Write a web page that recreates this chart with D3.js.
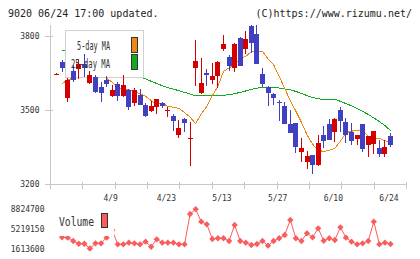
<!DOCTYPE html>
<html lang="ja">
<head>
<meta charset="utf-8">
<script src="https://cdnjs.cloudflare.com/ajax/libs/d3/7.8.5/d3.min.js"></script>
<style>
  body { margin: 0; background: #fff; }
  svg { display: block; font-family: "DejaVu Sans Mono", monospace; }
</style>
</head>
<body>
<svg width="420" height="259"></svg>
<script>
// trading days shown (one candle each)
const dates = ["3/26","3/27","3/30","3/31","4/1","4/2","4/3","4/6","4/7","4/8",
  "4/9","4/10","4/13","4/14","4/15","4/16","4/17","4/20","4/21","4/22",
  "4/23","4/24","4/27","4/28","4/30","5/1","5/7","5/8","5/11","5/12",
  "5/13","5/14","5/15","5/18","5/19","5/20","5/21","5/22","5/25","5/26",
  "5/27","5/28","5/29","6/1","6/2","6/3","6/4","6/5","6/8","6/9",
  "6/10","6/11","6/12","6/15","6/16","6/17","6/18","6/19","6/22","6/23","6/24"];

const open  = [3644,3695,3547,3657,3664,3685,3608,3634,3594,3621,
  3558,3604,3558,3581,3527,3561,3520,3496,3513,3527,
  3499,3476,3399,3462,3382,3668,3570,3651,3621,3637,
  3746,3715,3671,3789,3745,3840,3807,3645,3594,3563,
  3534,3516,3442,3446,3332,3291,3318,3278,3399,3443,
  3412,3500,3450,3410,3383,3443,3359,3363,3348,3321,3395];
const high  = [3648,3702,3628,3682,3702,3726,3657,3641,3614,3638,
  3601,3614,3641,3585,3589,3585,3528,3536,3544,3532,
  3513,3483,3460,3466,3453,3783,3711,3666,3691,3699,
  3803,3722,3772,3795,3819,3843,3843,3668,3598,3570,
  3540,3533,3500,3446,3386,3334,3318,3399,3435,3462,
  3466,3513,3469,3446,3399,3443,3395,3415,3379,3379,3408];
const low   = [3642,3655,3531,3614,3624,3634,3604,3570,3533,3594,
  3554,3538,3554,3500,3517,3520,3473,3491,3483,3507,
  3473,3416,3388,3412,3275,3598,3565,3598,3605,3588,
  3740,3659,3655,3679,3726,3729,3686,3594,3516,3520,
  3457,3442,3408,3325,3291,3261,3242,3272,3345,3379,
  3372,3412,3365,3359,3359,3332,3311,3321,3311,3311,3352];
const close = [3646,3668,3621,3621,3685,3671,3641,3574,3570,3605,
  3581,3558,3601,3513,3581,3520,3477,3516,3544,3517,
  3502,3457,3429,3449,3388,3698,3610,3643,3637,3695,
  3765,3679,3767,3679,3787,3772,3686,3604,3567,3550,
  3527,3442,3408,3352,3348,3314,3278,3368,3375,3379,
  3462,3457,3399,3376,3399,3341,3395,3415,3322,3352,3359];

const ma5 = [null,3607,3620,3630,3640,3648,3653,3648,3638,3628,
  3612,3594,3580,3584,3572,3566,3555,3538,3522,3527,
  3515,3511,3506,3490,3471,3445,3484,3515,3558,3596,
  3656,3670,3684,3708,3717,3735,3737,3737,3706,3683,
  3636,3587,3538,3495,3450,3400,3362,3338,3332,3337,
  3345,3374,3408,3415,3416,3416,3394,3384,3385,3376,3368];
const ma25 = [null,3742,3735,3727,3719,3711,3703,3695,3687,3679,
  3671,3663,3655,3647,3640,3632,3626,3616,3607,3598,
  3590,3584,3578,3571,3565,3557,3559,3559,3559,3559,
  3559,3562,3566,3571,3577,3583,3588,3592,3592,3591,
  3589,3585,3582,3575,3567,3558,3551,3545,3543,3543,
  3543,3535,3526,3517,3506,3494,3482,3468,3453,3437,3417];
const volume = [null,3670000,3600000,2990000,2490000,2490000,1613600,2570000,2570000,3600000,
  5000000,2380000,2380000,2680000,2570000,2380000,2860000,1940000,3300000,2680000,
  2680000,2680000,2380000,2380000,7940000,8824700,6530000,6050000,3360000,3490000,
  3490000,2990000,5930000,2990000,2680000,2260000,2440000,2990000,2130000,2990000,
  3490000,4090000,6840000,3490000,2990000,4400000,3670000,5320000,3040000,3490000,
  3170000,5500000,3600000,2860000,2380000,2570000,2990000,6530000,2380000,2680000,2440000];

const priceTicks = [3200, 3500, 3800];
const volTicks = [1613600, 5219150, 8824700];
const labelIdx = [10, 20, 30, 40, 50, 60];

const upColor = "#d40000", downColor = "#4040c0";
const ma5Color = "#ee8811", ma25Color = "#11aa22", volColor = "#fa5c5c";
const gridColor = "#c8c8c8";

const svg = d3.select("svg");
const idx = d3.range(dates.length);

const x = d3.scalePoint().domain(dates).range([56.5, 390.5]);
const y = d3.scaleLinear().domain([3200, 3800]).range([184.3, 35.7]);
const yv = d3.scaleLinear().domain(d3.extent(volume.filter(v => v != null))).range([248.5, 209.2]);
const frame = d3.scaleLinear().domain([0, 11]).range([50, 406]);

// header
svg.append("text").attr("x", 8).attr("y", 17).attr("font-size", 10).attr("fill", "#222")
  .text("9020 06/24 17:00 updated.");
svg.append("text").attr("x", 412).attr("y", 17).attr("font-size", 10).attr("fill", "#222")
  .attr("text-anchor", "end").text("(C)https://www.rizumu.net/");

// frame: left axis, bottom line, ticks
const fr = svg.append("g").attr("stroke", gridColor).attr("shape-rendering", "crispEdges");
fr.append("line").attr("x1", 50.5).attr("x2", 50.5).attr("y1", 25).attr("y2", 189);
fr.append("line").attr("x1", 50).attr("x2", 406).attr("y1", Math.round(y(3200)) + 0.5).attr("y2", Math.round(y(3200)) + 0.5);
fr.selectAll("line.xt").data(d3.range(1, 12)).join("line").attr("class", "xt")
  .attr("x1", k => Math.round(frame(k)) + 0.5).attr("x2", k => Math.round(frame(k)) + 0.5)
  .attr("y1", 182).attr("y2", 189);
fr.selectAll("line.yt").data(priceTicks).join("line").attr("class", "yt")
  .attr("x1", 45).attr("x2", 53)
  .attr("y1", d => Math.round(y(d)) + 0.5).attr("y2", d => Math.round(y(d)) + 0.5);

svg.append("g").selectAll("text").data(priceTicks).join("text")
  .attr("x", 39.5).attr("y", d => y(d) + 3).attr("text-anchor", "end")
  .attr("font-size", 8).attr("fill", "#333").text(d => d);

svg.append("g").selectAll("text").data(labelIdx).join("text")
  .attr("x", i => x(dates[i]) - 1.5).attr("y", 201).attr("text-anchor", "middle")
  .attr("font-size", 8).attr("fill", "#333").text(i => dates[i]);

// moving averages
const lineOf = arr => d3.line().defined(i => arr[i] != null).x(i => x(dates[i])).y(i => y(arr[i]));
svg.append("path").attr("d", lineOf(ma25)(idx)).attr("fill", "none")
  .attr("stroke", ma25Color).attr("stroke-width", 1).attr("shape-rendering", "crispEdges");
svg.append("path").attr("d", lineOf(ma5)(idx)).attr("fill", "none")
  .attr("stroke", ma5Color).attr("stroke-width", 1).attr("shape-rendering", "crispEdges");

// legend box (covers the lines, sits under the candles)
svg.append("rect").attr("x", 65.5).attr("y", 30.5).attr("width", 78).attr("height", 47)
  .attr("fill", "#fff").attr("stroke", "#d0d0d0");

// candles
const cg = svg.append("g").attr("shape-rendering", "crispEdges");
const left = i => Math.round(x(dates[i]) - 2.5);
const col = i => close[i] >= open[i] ? upColor : downColor;
cg.selectAll("line").data(idx).join("line")
  .attr("x1", i => left(i) + 2.5).attr("x2", i => left(i) + 2.5)
  .attr("y1", i => y(high[i])).attr("y2", i => y(low[i]))
  .attr("stroke", col);
cg.selectAll("rect").data(idx).join("rect")
  .attr("x", left).attr("width", 5)
  .attr("y", i => y(Math.max(open[i], close[i])))
  .attr("height", i => Math.max(1.5, Math.abs(y(open[i]) - y(close[i]))))
  .attr("fill", col);

// legend content
const lg = svg.append("g").attr("font-size", 12).attr("fill", "#333");
lg.append("text").attr("x", 110).attr("y", 50).attr("text-anchor", "end")
  .attr("textLength", 33).attr("lengthAdjust", "spacingAndGlyphs").text("5-day MA");
lg.append("text").attr("x", 110).attr("y", 67.5).attr("text-anchor", "end")
  .attr("textLength", 39).attr("lengthAdjust", "spacingAndGlyphs").text("25-day MA");
lg.append("rect").attr("x", 131.5).attr("y", 37.5).attr("width", 6).attr("height", 15)
  .attr("fill", ma5Color).attr("stroke", "#333");
lg.append("rect").attr("x", 131.5).attr("y", 54.5).attr("width", 6).attr("height", 15)
  .attr("fill", ma25Color).attr("stroke", "#333");

// volume panel
svg.append("g").selectAll("text").data(volTicks).join("text")
  .attr("x", 44.5).attr("y", d => yv(d) + 3).attr("text-anchor", "end")
  .attr("font-size", 8).attr("fill", "#333").text(d => d);

const vline = d3.line().defined(i => volume[i] != null).x(i => x(dates[i])).y(i => yv(volume[i]));
svg.append("path").attr("d", vline(idx)).attr("fill", "none")
  .attr("stroke", volColor).attr("stroke-width", 1);
svg.append("g").selectAll("path").data(idx.filter(i => volume[i] != null)).join("path")
  .attr("d", d3.symbol(d3.symbolSquare, 20)())
  .attr("transform", i => `translate(${x(dates[i])},${yv(volume[i])}) rotate(45)`)
  .attr("fill", volColor);

svg.append("rect").attr("x", 53).attr("y", 206).attr("width", 61).attr("height", 30).attr("fill", "#fff");
svg.append("text").attr("x", 59).attr("y", 226).attr("font-size", 12).attr("fill", "#333")
  .attr("textLength", 35).attr("lengthAdjust", "spacingAndGlyphs").text("Volume");
svg.append("rect").attr("x", 101.5).attr("y", 213.5).attr("width", 6).attr("height", 14)
  .attr("fill", volColor).attr("stroke", "#333");
</script>
</body>
</html>
